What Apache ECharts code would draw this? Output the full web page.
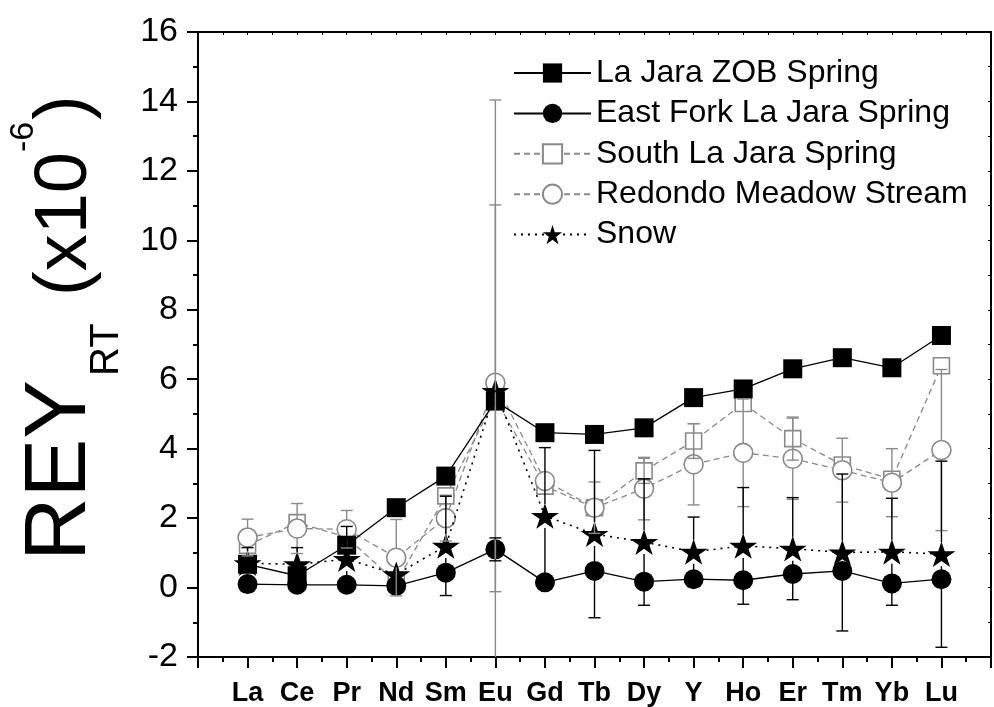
<!DOCTYPE html>
<html>
<head>
<meta charset="utf-8">
<script src="https://cdn.jsdelivr.net/npm/echarts@6/dist/echarts.min.js"></script>
<style>
  html, body { margin: 0; padding: 0; background: #fff; }
  #chart { width: 994px; height: 707px; }
</style>
</head>
<body>
<div id="chart"></div>
<script>
// Rare earth elements + yttrium, in plotting order (x = 1..15)
const elements = ['La', 'Ce', 'Pr', 'Nd', 'Sm', 'Eu', 'Gd', 'Tb', 'Dy', 'Y', 'Ho', 'Er', 'Tm', 'Yb', 'Lu'];

// REY_RT values (x10^-6)
const zobSpring      = [0.67, 0.34, 1.22, 2.30, 3.21, 5.37, 4.46, 4.41, 4.60, 5.47, 5.72, 6.30, 6.62, 6.33, 7.26];
const eastForkSpring = [0.10, 0.08, 0.08, 0.05, 0.43, 1.10, 0.15, 0.48, 0.17, 0.24, 0.21, 0.39, 0.48, 0.12, 0.24];
const southSpring    = [1.22, 1.87, 1.45, 0.15, 2.64, 5.45, 2.92, 2.30, 3.36, 4.22, 5.30, 4.29, 3.53, 3.12, 6.39];
const redondoStream  = [1.44, 1.70, 1.68, 0.86, 2.00, 5.90, 3.07, 2.30, 2.85, 3.55, 3.88, 3.71, 3.38, 3.02, 3.96];
const snow           = [0.70, 0.67, 0.82, 0.38, 1.20, 5.66, 2.06, 1.54, 1.31, 1.03, 1.20, 1.12, 1.01, 1.03, 0.96];

// Symmetric error (±), null where no bar is shown
const eastForkErr = [null, null, null, null, null, 0.33, null, null, null, null, null, null, null, null, null];
const southErr    = [null, null, null, 0.20, null, 5.57, null, 0.74, 0.36, 0.50, null, 0.62, null, null, null];
const redondoErr  = [0.53, 0.72, 0.54, 1.10, 0.66, 8.14, null, null, 0.90, 1.17, 1.55, 1.17, 0.92, 0.98, 2.32];
const snowErr     = [0.45, 0.48, 0.94, null, 1.43, null, 1.97, 2.41, 1.82, 1.00, 1.68, 1.47, 2.26, 1.54, 2.68];

// Axis ticks
const yTicks = { min: -2, max: 16, step: 2 };

const FONT = '"Liberation Sans", Arial, Helvetica, sans-serif';
const GRAY = '#8a8a8a';
const STAR = 'path://M50 0 L61.23 34.55 L97.55 34.55 L68.17 55.9 L79.39 90.45 L50 69.1 L20.61 90.45 L31.83 55.9 L2.45 34.55 L38.77 34.55 Z';

const toXY = arr => arr.map((v, i) => [i + 1, v]);

// Error bars start at the marker edge and end in short caps
function errorBars(values, errs, color, gap) {
  const data = [];
  values.forEach((v, i) => { if (errs[i] != null) data.push([i + 1, v, errs[i]]); });
  return {
    type: 'custom',
    z: 6,
    clip: true,
    silent: true,
    data: data,
    encode: { x: 0, y: 1 },
    renderItem: function (params, api) {
      const x = api.value(0), y = api.value(1), e = api.value(2);
      const c = api.coord([x, y]);
      const top = api.coord([x, y + e]);
      const bot = api.coord([x, y - e]);
      const cap = 6;
      const style = { stroke: color, lineWidth: 1.4 };
      const kids = [];
      if (c[1] - top[1] > gap) {
        kids.push({ type: 'line', shape: { x1: c[0], y1: c[1] - gap, x2: c[0], y2: top[1] }, style: style });
        kids.push({ type: 'line', shape: { x1: c[0] - cap, y1: top[1], x2: c[0] + cap, y2: top[1] }, style: style });
      }
      if (bot[1] - c[1] > gap) {
        kids.push({ type: 'line', shape: { x1: c[0], y1: c[1] + gap, x2: c[0], y2: bot[1] }, style: style });
        kids.push({ type: 'line', shape: { x1: c[0] - cap, y1: bot[1], x2: c[0] + cap, y2: bot[1] }, style: style });
      }
      return { type: 'group', children: kids };
    }
  };
}

const chart = echarts.init(document.getElementById('chart'), null, { renderer: 'canvas' });

const yTitle = [
  { text: 'REY', size: 88, x: 61, y: 561 },
  { text: 'RT', size: 40, x: 107, y: 376 },
  { text: '(x10', size: 74, x: 66, y: 296 },
  { text: '-6', size: 34, x: 24, y: 152 },
  { text: ')', size: 74, x: 66, y: 120 }
];

chart.setOption({
  animation: false,
  backgroundColor: '#fff',
  grid: { left: 198, right: 2, top: 32, bottom: 49, containLabel: false },
  xAxis: [
    {
      type: 'value', min: 0, max: 16, interval: 1,
      axisLine: { onZero: false, lineStyle: { color: '#000', width: 2 } },
      axisTick: { inside: false, length: 11, lineStyle: { color: '#000', width: 2 } },
      minorTick: { show: true, splitNumber: 2, length: 5, lineStyle: { color: '#000', width: 2 } },
      splitLine: { show: false },
      axisLabel: {
        margin: 23, color: '#000', fontFamily: FONT, fontSize: 27, fontWeight: 'bold',
        formatter: v => elements[v - 1] || ''
      }
    },
    {
      type: 'value', position: 'top', min: 0, max: 16, interval: 0.5,
      axisLine: { show: true, onZero: false, lineStyle: { color: '#000', width: 2 } },
      axisTick: { inside: true, length: 3, lineStyle: { color: '#000', width: 1 } },
      axisLabel: { show: false },
      splitLine: { show: false }
    }
  ],
  yAxis: [
    {
      type: 'value', min: yTicks.min, max: yTicks.max, interval: yTicks.step,
      axisLine: { show: true, onZero: false, lineStyle: { color: '#000', width: 2 } },
      axisTick: { inside: false, length: 11, lineStyle: { color: '#000', width: 2 } },
      minorTick: { show: true, splitNumber: 2, length: 5, lineStyle: { color: '#000', width: 2 } },
      splitLine: { show: false },
      axisLabel: { margin: 20, color: '#000', fontFamily: FONT, fontSize: 34 }
    },
    {
      type: 'value', position: 'right', min: yTicks.min, max: yTicks.max, interval: 1,
      axisLine: { show: true, onZero: false, lineStyle: { color: '#000', width: 2 } },
      axisTick: { inside: true, length: 3, lineStyle: { color: '#000', width: 1 } },
      axisLabel: { show: false },
      splitLine: { show: false }
    }
  ],
  legend: {
    orient: 'vertical',
    left: 508, top: 52,
    itemWidth: 77, itemHeight: 24, itemGap: 8.4,
    textStyle: { color: '#000', fontFamily: FONT, fontSize: 32, lineHeight: 32 },
    data: ['La Jara ZOB Spring', 'East Fork La Jara Spring', 'South La Jara Spring', 'Redondo Meadow Stream', 'Snow']
  },
  graphic: yTitle.map(t => ({
    type: 'text', x: t.x, y: t.y, rotation: Math.PI / 2,
    style: { text: t.text, fontSize: t.size, fontFamily: FONT, fill: '#000', align: 'left', verticalAlign: 'middle' }
  })),
  series: [
    {
      name: 'South La Jara Spring', type: 'line', z: 2, data: toXY(southSpring),
      symbol: 'rect', symbolSize: 16,
      lineStyle: { color: GRAY, width: 1.3, type: [6, 4] },
      itemStyle: { color: '#fff', borderColor: GRAY, borderWidth: 1.6 }
    },
    {
      name: 'Redondo Meadow Stream', type: 'line', z: 2, data: toXY(redondoStream),
      symbol: 'circle', symbolSize: 19,
      lineStyle: { color: GRAY, width: 1.3, type: [6, 4] },
      itemStyle: { color: '#fff', borderColor: GRAY, borderWidth: 1.6 }
    },
    {
      name: 'La Jara ZOB Spring', type: 'line', z: 3, data: toXY(zobSpring),
      symbol: 'rect', symbolSize: 19,
      lineStyle: { color: '#000', width: 1.3 },
      itemStyle: { color: '#000' }
    },
    {
      name: 'East Fork La Jara Spring', type: 'line', z: 3, data: toXY(eastForkSpring),
      symbol: 'circle', symbolSize: 20,
      lineStyle: { color: '#000', width: 1.3 },
      itemStyle: { color: '#000' }
    },
    {
      name: 'Snow', type: 'line', z: 4, data: toXY(snow),
      symbol: STAR, symbolSize: [28, 27], symbolKeepAspect: true,
      lineStyle: { color: '#000', width: 1.6, type: [2, 5] },
      itemStyle: { color: '#000' }
    },
    errorBars(southSpring, southErr, GRAY, 8),
    errorBars(redondoStream, redondoErr, GRAY, 9.5),
    errorBars(eastForkSpring, eastForkErr, '#000', 10),
    errorBars(snow, snowErr, '#000', 12)
  ]
});
</script>
</body>
</html>
